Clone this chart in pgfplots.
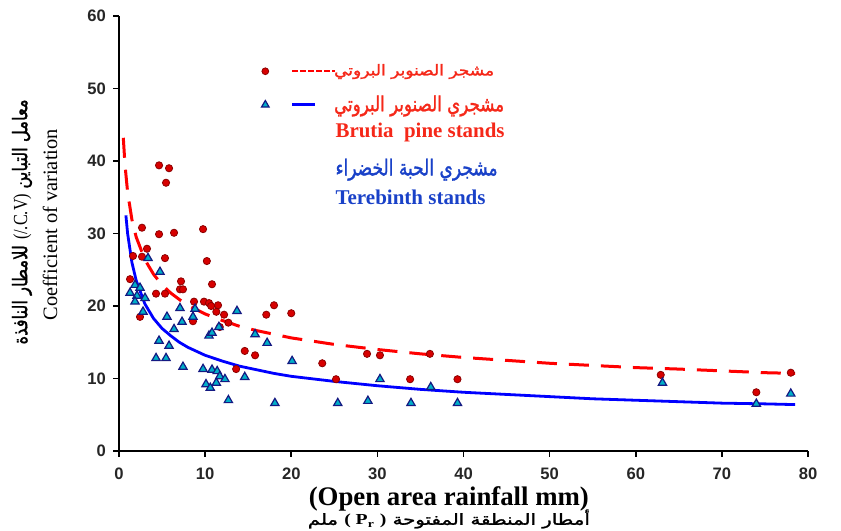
\documentclass[border=0pt]{standalone}
\usepackage{fontspec}
\usepackage{graphicx}
\setmainfont{Liberation Serif}
\setsansfont{Liberation Sans}
\newfontfamily\arabicfont[Script=Arabic]{DejaVu Sans}
\newfontfamily\arabicbold[Script=Arabic,FakeBold=1.5]{DejaVu Sans}
\TeXXeTstate=1
\usepackage{pgfplots}
\pgfplotsset{compat=1.18}
\definecolor{redfill}{RGB}{215,0,0}
\definecolor{reddraw}{RGB}{140,0,0}
\definecolor{trifill}{RGB}{0,175,200}
\definecolor{tridraw}{RGB}{20,25,130}
\definecolor{legred}{RGB}{245,40,25}
\definecolor{legblue}{RGB}{25,65,200}
\definecolor{curvered}{RGB}{255,0,0}
\definecolor{curveblue}{RGB}{0,0,255}

\pgfplotstableread{
x y
4.65 39.4
5.81 39.0
5.46 37.0
2.67 30.8
4.65 29.9
6.39 30.1
9.76 30.6
3.25 27.9
1.63 26.9
2.67 26.8
5.34 26.6
10.2 26.2
1.28 23.7
7.2 23.4
10.8 23.0
7.08 22.3
7.43 22.3
4.30 21.7
5.34 21.7
8.71 20.6
9.87 20.6
10.45 20.4
11.5 20.1
10.7 20.0
11.3 19.2
12.2 18.8
18.0 20.1
20.0 19.0
17.1 18.8
2.44 18.5
8.59 17.9
12.7 17.7
11.7 17.1
14.6 13.8
15.8 13.2
13.6 11.3
28.8 13.4
30.3 13.2
36.1 13.4
23.6 12.1
25.2 9.9
33.8 9.9
39.3 9.9
62.9 10.5
74.0 8.1
78.0 10.8
}\pinedata

\pgfplotstableread{
x y
3.37 26.6
4.76 24.7
1.86 22.9
2.44 22.5
1.28 21.8
2.09 21.4
3.02 21.1
1.86 20.6
2.79 19.2
5.57 18.5
7.08 19.7
8.83 19.6
8.59 18.5
7.32 17.8
6.39 16.8
11.6 17.1
10.45 15.9
10.8 16.3
4.65 15.2
5.81 14.5
4.30 12.8
5.46 12.8
7.43 11.6
9.76 11.3
10.8 11.2
11.4 11.0
11.7 10.3
12.3 9.9
14.6 10.2
10.1 9.2
11.3 9.4
10.6 8.7
12.7 7.0
18.1 6.6
15.8 16.1
17.2 14.9
13.7 19.3
20.1 12.4
30.3 9.9
36.2 8.8
25.4 6.6
28.9 6.9
33.9 6.6
39.3 6.6
63.1 9.4
74.0 6.5
78.0 7.9
}\terebdata

\pgfplotstableread{
x y
0.5 43.2
0.7 39.4
1 35.7
1.5 31.9
2 29.5
3 26.4
4 24.4
5 22.9
6 21.8
7 20.9
8 20.1
10 18.9
12 18.0
14 17.2
16 16.6
18 16.1
20 15.6
25 14.7
30 14.0
35 13.4
40 12.9
45 12.5
50 12.1
55 11.8
60 11.5
65 11.3
70 11.05
75 10.8
78.5 10.7
}\pinefit

\pgfplotstableread{
x y
0.8 32.5
1 30.0
1.5 26.0
2 23.5
3 20.3
4 18.3
5 16.9
6 15.9
7 15.0
8 14.3
10 13.2
12 12.4
14 11.7
16 11.2
18 10.7
20 10.3
25 9.6
30 9.0
35 8.5
40 8.1
45 7.8
50 7.5
55 7.2
60 7.0
65 6.8
70 6.6
75 6.5
78.5 6.4
}\terebfit

\begin{document}
\begin{tikzpicture}
\begin{axis}[
  scale only axis,
  width=344.5pt, height=217.5pt,
  xmin=0, xmax=80, ymin=0, ymax=60,
  axis x line=bottom, axis y line=left,
  axis line style={-, line width=0.8pt, black},
  xtick={0,10,...,80}, ytick={0,10,...,60},
  tick align=outside, major tick length=3pt,
  tick style={black, line width=0.8pt},
  tick label style={font=\sffamily\bfseries\fontsize{8.3}{9}\selectfont, text=black!85},
  /pgf/number format/assume math mode=true,
  xticklabel style={yshift=-2pt},
  clip=false,
  legend style={draw=none, fill=none, at={(axis cs:16.5,53.7)}, anchor=north west,
    inner sep=0pt, row sep=6.5pt, column sep=-2pt,
    nodes={inner sep=1pt}},
  legend cell align=left,
]
\addplot[forget plot, only marks, mark=*, mark size=1.8pt,
  mark options={fill=redfill, draw=reddraw, line width=0.4pt}] table {\pinedata};
\addplot[forget plot, only marks, mark=triangle*, mark size=2.4pt,
  mark options={fill=trifill, draw=tridraw, line width=0.6pt}] table {\terebdata};
\addplot[forget plot, curvered, line width=1.5pt, dash pattern=on 10pt off 6pt] table {\pinefit};
\addplot[forget plot, curveblue, line width=1.4pt] table {\terebfit};

\addlegendimage{legend image code/.code={
  \draw[mark=*, mark size=1.7pt, mark options={fill=redfill, draw=reddraw, line width=0.4pt}] plot coordinates {(0pt,0pt)};
  \draw[curvered, line width=0.8pt, dash pattern=on 2.6pt off 1.4pt] (13.5pt,0pt)--(35pt,0pt);}}
\addlegendentry{\textcolor{legred}{\resizebox*{80pt}{7.5pt}{\arabicbold\beginR مشجر الصنوبر البروتي\endR}}}
\addlegendimage{legend image code/.code={
  \draw[mark=triangle*, mark size=2.2pt, mark options={fill=trifill, draw=tridraw, line width=0.6pt}] plot coordinates {(0pt,0pt)};
  \draw[curveblue, line width=1.4pt] (13.5pt,0pt)--(25pt,0pt);
  \path (35pt,0pt);}}
\addlegendentry{\textcolor{legred}{\resizebox*{85pt}{10.5pt}{\arabicbold\beginR مشجري الصنوبر البروتي\endR}}}

\node[anchor=west, inner sep=0pt, text=legred] at (axis cs:25.1,43.9)
  {\fontsize{10.45}{12}\selectfont\bfseries Brutia\ \ pine stands};
\node[anchor=west, inner sep=0pt, text=legblue] at (axis cs:25.1,38.8)
  {\resizebox*{81pt}{11pt}{\arabicbold\beginR مشجري الحبة الخضراء\endR}};
\node[anchor=west, inner sep=0pt, text=legblue] at (axis cs:25.1,35.0)
  {\fontsize{10.5}{12}\selectfont\bfseries Terebinth stands};

\node[inner sep=0pt] at ([yshift=-24pt]axis cs:38.3,0)
  {\fontsize{13.4}{15}\selectfont\bfseries (Open area rainfall mm)};
\node[inner sep=0pt] at ([yshift=-34pt]axis cs:38.3,0)
  {\resizebox*{141pt}{9.5pt}{\arabicbold\beginR أمطار المنطقة المفتوحة \beginL{\rmfamily\bfseries ( P\textsubscript{r} )}\endL{} ملم\endR}};

\node[rotate=90, inner sep=0pt] at ([xshift=-48.5pt]axis cs:0,31.6)
  {\resizebox*{122.5pt}{10pt}{\arabicbold\beginR معامل التباين \beginL{\rmfamily (/.C.V)}\endL{} للامطار النافذة\endR}};
\node[rotate=90, inner sep=0pt] at ([xshift=-34.5pt]axis cs:0,31.2)
  {\fontsize{10.2}{12}\selectfont Coefficient of variation};
\end{axis}
\pgfresetboundingbox
\path[use as bounding box] ([xshift=-59.5pt,yshift=-40pt]current axis.south west) rectangle ([xshift=16.5pt,yshift=8pt]current axis.north east);
\end{tikzpicture}
\end{document}
